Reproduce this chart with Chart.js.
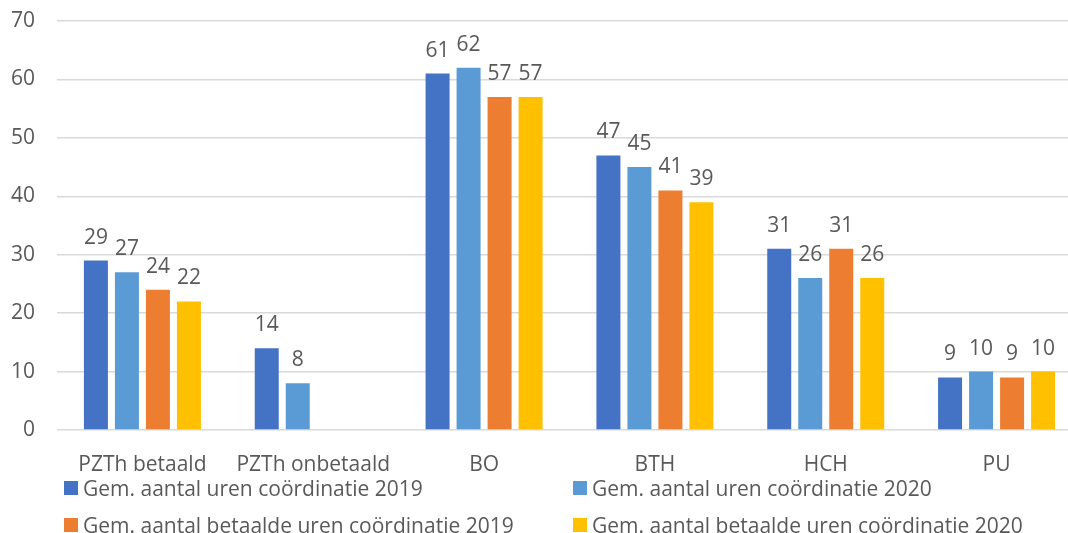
<!DOCTYPE html>
<html>
<head>
<meta charset="utf-8">
<script src="https://cdn.jsdelivr.net/npm/chart.js@4.4.1/dist/chart.umd.min.js"></script>
<style>
  html, body { margin: 0; padding: 0; background: #fff; overflow: hidden; }
  #wrap { position: relative; width: 1068px; height: 533px; overflow: hidden; }
  #chart { position: absolute; left: 0; top: 0; }
  #legend { position: absolute; left: 0; top: 0; width: 1068px; height: 533px; pointer-events: none;
            font-family: "Open Sans", sans-serif; font-size: 21px; color: #595959; }
  .item { position: absolute; display: flex; align-items: center; white-space: nowrap; height: 26px; }
  .box { width: 14px; height: 14px; margin-right: 5px; }
</style>
</head>
<body>
<div id="wrap">
  <!-- plot area runs a little past the right edge, like the original -->
  <canvas id="chart" width="1085" height="533"></canvas>
  <div id="legend"></div>
</div>
<script>
// Categories and series
const categories = ['PZTh betaald', 'PZTh onbetaald', 'BO', 'BTH', 'HCH', 'PU'];
const seriesNames = [
    'Gem. aantal uren coördinatie 2019',
    'Gem. aantal uren coördinatie 2020',
    'Gem. aantal betaalde uren coördinatie 2019',
    'Gem. aantal betaalde uren coördinatie 2020'
];
const uren2019 = [29, 14, 61, 47, 31, 9];
const uren2020 = [27, 8, 62, 45, 26, 10];
const betaald2019 = [24, null, 57, 41, 31, 9];
const betaald2020 = [22, null, 57, 39, 26, 10];
const yTicks = [0, 10, 20, 30, 40, 50, 60, 70];

const colors = ['#4472C4', '#5B9BD5', '#ED7D31', '#FFC000'];
const textColor = '#595959';
const fontFamily = '"Open Sans", sans-serif';

// Draw value labels above each bar
const valueLabels = {
    id: 'valueLabels',
    afterDatasetsDraw(chart) {
        const ctx = chart.ctx;
        ctx.save();
        ctx.font = '21px ' + fontFamily;
        ctx.fillStyle = textColor;
        ctx.textAlign = 'center';
        ctx.textBaseline = 'alphabetic';
        chart.data.datasets.forEach((ds, i) => {
            chart.getDatasetMeta(i).data.forEach((bar, j) => {
                const v = ds.data[j];
                if (v === null || v === undefined) return;
                ctx.fillText(String(v), bar.x, bar.y - 17);
            });
        });
        ctx.restore();
    }
};

const datasets = [uren2019, uren2020, betaald2019, betaald2020].map((data, i) => ({
    label: seriesNames[i],
    data: data,
    backgroundColor: colors[i],
    borderWidth: 0,
    categoryPercentage: 0.726,
    barPercentage: 0.774
}));

const chart = new Chart(document.getElementById('chart'), {
    type: 'bar',
    data: { labels: categories, datasets: datasets },
    options: {
        responsive: false,
        animation: false,
        layout: { padding: { top: 21, right: 3, bottom: 58, left: 2 } },
        plugins: {
            legend: { display: false },
            tooltip: { enabled: false }
        },
        scales: {
            x: {
                grid: { display: false },
                border: { display: false },
                ticks: { color: textColor, font: { family: fontFamily, size: 21 }, padding: 14 },
                afterFit: (s) => { s.height = 45; }
            },
            y: {
                min: 0,
                max: 70,
                afterBuildTicks: (s) => { s.ticks = yTicks.map(v => ({ value: v })); },
                grid: { color: '#d9d9d9', lineWidth: 1.5, drawTicks: false },
                border: { display: false },
                ticks: { color: textColor, font: { family: fontFamily, size: 21 }, padding: 22 },
                afterFit: (s) => {
                    s.width = 55;
                    s.paddingTop = 0;
                    s.paddingBottom = 0;
                }
            }
        }
    },
    plugins: [valueLabels]
});

// HTML legend in two columns
const legendPos = [[64, 488], [573, 488], [64, 525], [573, 525]];
const legend = document.getElementById('legend');
seriesNames.forEach((name, i) => {
    const item = document.createElement('div');
    item.className = 'item';
    item.style.left = legendPos[i][0] + 'px';
    item.style.top = (legendPos[i][1] - 13) + 'px';
    item.innerHTML = '<span class="box" style="background:' + colors[i] + '"></span><span>' + name + '</span>';
    legend.appendChild(item);
});
</script>
</body>
</html>
